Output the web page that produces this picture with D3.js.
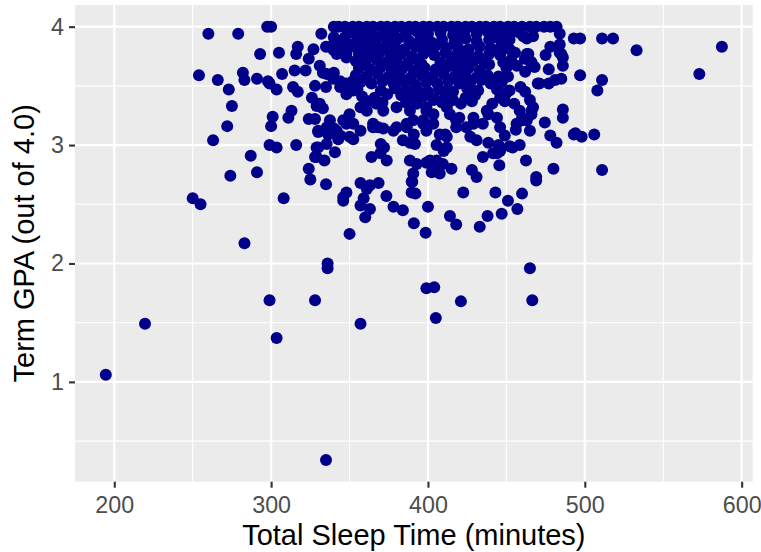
<!DOCTYPE html>
<html>
<head>
<meta charset="utf-8">
<script src="https://cdn.jsdelivr.net/npm/d3@7"></script>
<style>
body { margin: 0; background: #ffffff; }
text { font-family: "Liberation Sans", Arial, sans-serif; }
</style>
</head>
<body>
<div id="chart"></div>
<script>
//Data: [total sleep time (minutes), term GPA]

// students at a perfect 4.0
const gpaFour = [
	[297.5, 4.0], [300, 4.0], [340, 4.0], [343, 4.0], [347, 4.0], [352, 4.0], [356, 4.0], [361, 4.0],
	[365, 4.0], [370, 4.0], [374, 4.0], [379, 4.0], [383, 4.0], [388, 4.0], [392, 4.0], [397, 4.0],
	[401, 4.0], [406, 4.0], [410, 4.0], [415, 4.0], [419, 4.0], [424, 4.0], [428, 4.0], [433, 4.0],
	[437, 4.0], [442, 4.0], [446, 4.0], [451, 4.0], [455, 4.0], [460, 4.0], [465, 4.0], [469, 4.0],
	[474, 4.0], [478, 4.0], [482, 4.0]
];

// the crowded middle of the cloud
const coreCloud = [
	[351, 3.95], [357, 3.94], [364, 3.95], [371, 3.93], [378, 3.95], [386, 3.94], [393, 3.96], [400, 3.94],
	[408, 3.95], [416, 3.93], [423, 3.95], [431, 3.94], [438, 3.96], [446, 3.94], [453, 3.95],
	[355, 3.89], [361, 3.87], [367, 3.89], [374, 3.88], [381, 3.90], [388, 3.88], [395, 3.89], [402, 3.87],
	[409, 3.89], [417, 3.88], [424, 3.90], [431, 3.88], [439, 3.89], [447, 3.87], [452, 3.89],
	[353, 3.83], [359, 3.82], [366, 3.84], [372, 3.82], [379, 3.83], [385, 3.81], [392, 3.83], [399, 3.82],
	[405, 3.84], [412, 3.82], [419, 3.83], [426, 3.81], [433, 3.83], [440, 3.82], [447, 3.83],
	[356, 3.77], [362, 3.76], [369, 3.78], [376, 3.76], [383, 3.77], [390, 3.75], [397, 3.77], [404, 3.76],
	[411, 3.78], [418, 3.76], [425, 3.77], [432, 3.75], [439, 3.77], [446, 3.76],
	[354, 3.71], [360, 3.70], [367, 3.72], [373, 3.70], [380, 3.71], [387, 3.69], [394, 3.71], [408, 3.70],
	[415, 3.72], [422, 3.70], [429, 3.71], [436, 3.69], [448, 3.70],
	[356, 3.65], [363, 3.64], [370, 3.66], [377, 3.64], [384, 3.65], [391, 3.63], [398, 3.65], [405, 3.64],
	[412, 3.66], [419, 3.64], [426, 3.65], [433, 3.63], [450, 3.65],
	[354, 3.59], [361, 3.58], [368, 3.60], [375, 3.58], [382, 3.59], [389, 3.57], [396, 3.59], [403, 3.58],
	[410, 3.60], [417, 3.58], [424, 3.59], [431, 3.57], [438, 3.59], [445, 3.58],
	[357, 3.53], [364, 3.52], [371, 3.54], [378, 3.52], [385, 3.53], [392, 3.51], [399, 3.53], [406, 3.52],
	[413, 3.54], [420, 3.52], [427, 3.53], [440, 3.52], [447, 3.53],
	[355, 3.47], [370, 3.46], [379, 3.48], [386, 3.46], [393, 3.47], [400, 3.45], [407, 3.47], [412, 3.46],
	[425, 3.48], [432, 3.46], [444, 3.47],
	[358, 3.41], [366, 3.40], [383, 3.42], [390, 3.40], [397, 3.41], [404, 3.39], [411, 3.41], [424, 3.40],
	[430, 3.42], [446, 3.40]
];

// more students packed between the rows above
const coreFill = [
	[360, 3.91], [376, 3.92], [398, 3.91], [420, 3.92], [443, 3.91], [458, 3.95],
	[363, 3.80], [382, 3.79], [401, 3.80], [422, 3.79], [444, 3.80], [452, 3.81],
	[358, 3.68], [375, 3.67], [396, 3.68], [416, 3.67], [439, 3.68], [453, 3.72],
	[360, 3.56], [380, 3.55], [400, 3.56], [421, 3.55], [434, 3.55], [451, 3.58],
	[374, 3.43], [396, 3.44], [416, 3.45], [429, 3.44], [450, 3.44],
	[362, 3.37], [371, 3.36], [386, 3.36], [393, 3.35], [409, 3.36], [421, 3.35], [428, 3.37], [441, 3.35],
	[449, 3.37]
];

// left side of the cloud
const leftSide = [
	[260, 3.94], [279, 3.94], [332, 3.94], [293, 3.77], [305, 3.78], [317, 3.83], [316, 3.77], [327, 3.81],
	[324, 3.73], [254, 3.59], [266, 3.55], [282, 3.61], [283, 3.55], [291, 3.56], [298, 3.54], [299, 3.52],
	[307, 3.60], [303.5, 3.47], [315, 3.63], [322, 3.63], [314, 3.49], [317, 3.45], [273, 3.47], [275, 3.33],
	[272, 3.16], [263, 3.04], [301, 3.24], [300, 3.16], [313, 3.29], [311, 3.23], [299, 3.00], [303.5, 2.98],
	[316, 3.00], [287, 2.91], [291, 2.77], [274, 2.74], [308, 2.55], [324, 3.22], [328, 3.22], [330, 3.11],
	[326, 3.40], [329, 3.33], [329, 2.98], [329, 2.90], [334, 2.87], [324, 2.80], [325, 2.71], [335, 2.67],
	[335, 3.83], [340, 3.80], [342, 3.88], [340, 3.91], [337.5, 3.83], [341.8, 3.77], [348, 3.77], [344, 3.85],
	[346, 3.80], [348, 3.74], [350, 3.85], [347, 3.91], [331, 3.67], [335.5, 3.60], [339.6, 3.56], [344, 3.54],
	[348, 3.52], [352, 3.54], [344, 3.49], [348, 3.43], [352.4, 3.46], [340, 3.61], [333, 3.61], [328, 3.50],
	[335, 3.49], [331, 3.35], [333, 3.31], [337.5, 3.21], [346, 3.21], [352.4, 3.18], [335.5, 3.15], [340, 3.14],
	[344, 3.08], [350, 3.07], [348, 3.18], [350, 3.26], [330, 3.12], [336.4, 3.09], [341.8, 3.12], [342.8, 3.05],
	[352.4, 3.05], [330, 2.98], [335.4, 3.01], [340.7, 2.94], [328, 2.90]
];

// below the crowded middle
const lowerMiddle = [
	[357, 3.32], [361, 3.29], [367, 3.35], [371.5, 3.29], [380, 3.32], [388.5, 3.29], [399, 3.32], [403.5, 3.38],
	[403.5, 3.26], [357, 3.12], [365, 3.15], [371.5, 3.14], [378, 3.12], [386.5, 3.15], [391, 3.09], [397, 3.18],
	[399, 3.12], [407.5, 3.09], [412, 3.07], [365, 3.18], [368.3, 3.15], [380, 3.15], [386.4, 3.18], [390.6, 3.21],
	[397, 3.21], [403.4, 3.18], [369.9, 3.01], [372, 2.98], [384, 3.04], [388.5, 3.02], [391.7, 3.01], [364, 2.90],
	[369.6, 2.93], [373.7, 2.87], [388.5, 2.87], [392.8, 2.84], [390.6, 2.76], [389.6, 2.69], [389.6, 2.60], [402.4, 2.77],
	[401.3, 2.87], [405.5, 2.87], [399, 2.85], [405.5, 2.81], [407.5, 2.76], [412, 2.98], [405.5, 3.00], [409.5, 2.84],
	[415, 2.80], [411, 3.09], [410, 2.95], [418, 3.15], [424.5, 3.15], [420, 3.23], [429, 3.23], [437.5, 3.29],
	[444, 3.23], [412, 3.32], [416, 3.38], [414, 3.26], [418, 3.21], [429, 3.18], [435, 3.18], [438.5, 3.26],
	[427, 3.07], [431, 3.04], [438.5, 3.02], [441.5, 2.93], [435, 2.90], [428, 2.79], [431, 2.73], [445.5, 2.83],
	[445, 3.00], [446, 2.95], [399, 3.29], [446, 3.15],
	[348, 2.60], [357, 2.68], [363, 2.66], [368.5, 2.68], [361, 2.63], [346, 2.56], [346, 2.53], [359, 2.55],
	[357, 2.49], [363, 2.46], [360, 2.39], [373.5, 2.57], [378, 2.48], [384, 2.45], [391, 2.34], [398.5, 2.26],
	[400, 2.48], [414, 2.40], [418, 2.33], [433, 2.31], [438, 2.40], [447, 2.42], [457, 2.46], [451, 2.53],
	[460, 2.59], [422.5, 2.60], [443, 2.60], [390, 2.69], [392, 2.59], [469, 2.70]
];

// right side of the cloud
const rightSide = [
	[484, 3.94], [486, 3.67], [485, 3.77], [484, 3.85], [477, 3.64], [475, 3.76], [478, 3.83], [455.5, 3.78],
	[456.7, 3.67], [461.8, 3.73], [462, 3.62], [464, 3.77], [466, 3.70], [468, 3.66], [459, 3.49], [462, 3.45],
	[465, 3.38], [467, 3.32], [466, 3.29], [455, 3.35], [452, 3.46], [458.5, 3.29], [460, 3.23], [456.5, 3.18],
	[456, 3.13], [449, 3.08], [452, 2.99], [454, 2.98], [458.5, 3.00], [444, 2.93], [485, 3.56], [477, 3.52],
	[481, 3.55], [470, 3.52], [471, 3.52], [474.5, 3.19], [465, 3.12], [462.5, 2.87], [469, 2.73], [480, 2.80],
	[478, 3.08], [482, 3.02], [486, 3.23], [486, 3.30], [493, 3.09], [467, 3.92], [460.8, 3.92], [463, 3.90],
	[463, 3.77], [465, 3.71], [486, 3.74], [484, 3.78], [466, 3.26], [460, 3.21], [463, 3.21]
];

// students far from the cloud
const outliers = [
	[194.6, 1.06], [219.6, 1.49], [250, 2.55], [255, 2.50], [283, 2.17], [299, 1.69], [303.5, 1.37], [328, 1.69],
	[336, 2.00], [336, 1.96], [335, 0.34], [357, 1.49], [350, 2.25], [399, 1.79], [404, 1.80], [405, 1.54],
	[421, 1.68], [465, 1.96], [466.5, 1.69], [587.4, 3.83], [573, 3.60], [533, 3.80], [511, 3.90], [518, 3.90],
	[493, 3.90], [497, 3.90], [497, 3.59], [511, 3.55], [508, 3.46], [511, 2.79], [506, 3.09], [498, 3.07],
	[494, 3.10]
];

const xTicks = [200, 300, 400, 500, 600];
const xMinor = [250, 350, 450, 550];
const yTicks = [1, 2, 3, 4];
const yMinor = [0.5, 1.5, 2.5, 3.5];

const xTitle = "Total Sleep Time (minutes)";
const yTitle = "Term GPA (out of 4.0)";

//Layout
const width = 761;
const height = 552;
const margin = {top: 5, right: 8.3, bottom: 70.3, left: 75};
const panelW = width - margin.left - margin.right;
const panelH = height - margin.top - margin.bottom;

const allPoints = [].concat(gpaFour, coreCloud, coreFill, leftSide, lowerMiddle, rightSide, outliers);

// ggplot style 5% padding on both scales
let padExtent = function(ext) {
	let pad = (ext[1] - ext[0]) * 0.05;
	return [ext[0] - pad, ext[1] + pad];
}

const xScale = d3.scaleLinear()
	.domain(padExtent(d3.extent(allPoints, function(d) {return d[0]})))
	.range([0, panelW]);
const yScale = d3.scaleLinear()
	.domain(padExtent(d3.extent(allPoints, function(d) {return d[1]})))
	.range([panelH, 0]);

let svg = d3.select('#chart')
	.append("svg")
	.attr("width", width)
	.attr("height", height);

let panel = svg.append("g")
	.attr("transform", "translate(" + margin.left + "," + margin.top + ")");

panel.append("rect")
	.attr("width", panelW)
	.attr("height", panelH)
	.style("fill", "#EBEBEB");

// minor grid
panel.selectAll(".xminor").data(xMinor).enter().append("line")
	.attr("x1", xScale).attr("x2", xScale)
	.attr("y1", 0).attr("y2", panelH)
	.style("stroke", "#ffffff").style("stroke-width", 1.1);
panel.selectAll(".yminor").data(yMinor).enter().append("line")
	.attr("y1", yScale).attr("y2", yScale)
	.attr("x1", 0).attr("x2", panelW)
	.style("stroke", "#ffffff").style("stroke-width", 1.1);

// major grid
panel.selectAll(".xmajor").data(xTicks).enter().append("line")
	.attr("x1", xScale).attr("x2", xScale)
	.attr("y1", 0).attr("y2", panelH)
	.style("stroke", "#ffffff").style("stroke-width", 2.2);
panel.selectAll(".ymajor").data(yTicks).enter().append("line")
	.attr("y1", yScale).attr("y2", yScale)
	.attr("x1", 0).attr("x2", panelW)
	.style("stroke", "#ffffff").style("stroke-width", 2.2);

// points
panel.selectAll("circle")
	.data(allPoints)
	.enter()
	.append("circle")
	.attr("cx", function(d) {return xScale(d[0])})
	.attr("cy", function(d) {return yScale(d[1])})
	.attr("r", 6)
	.style("fill", "#00008B");

// axes
let xAxis = panel.append("g")
	.attr("transform", "translate(0," + panelH + ")")
	.call(d3.axisBottom(xScale).tickValues(xTicks).tickFormat(d3.format("d")).tickSize(6).tickPadding(8.5));
let yAxis = panel.append("g")
	.call(d3.axisLeft(yScale).tickValues(yTicks).tickFormat(d3.format("d")).tickSize(6).tickPadding(5));

[xAxis, yAxis].forEach(function(ax) {
	ax.select(".domain").remove();
	ax.selectAll(".tick line").style("stroke", "#333333").style("stroke-width", 2.1);
	ax.selectAll(".tick text")
		.style("fill", "#4D4D4D")
		.style("font-size", "23.3px")
		.style("font-family", "'Liberation Sans', Arial, sans-serif");
});

// titles
svg.append("text")
	.attr("x", margin.left + panelW / 2)
	.attr("y", 545)
	.attr("text-anchor", "middle")
	.style("font-size", "29px")
	.style("fill", "#000000")
	.text(xTitle);

svg.append("text")
	.attr("transform", "translate(34," + (margin.top + panelH / 2) + ") rotate(-90)")
	.attr("text-anchor", "middle")
	.style("font-size", "29px")
	.style("fill", "#000000")
	.text(yTitle);
</script>
</body>
</html>
